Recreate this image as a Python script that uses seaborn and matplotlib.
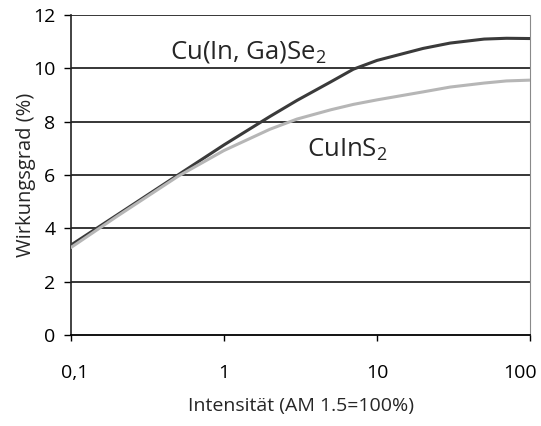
import numpy as np
import pandas as pd
import matplotlib
matplotlib.use("Agg")
import matplotlib.pyplot as plt
import matplotlib.transforms as mtransforms
import seaborn as sns

# data
intensity = [0.1, 0.2, 0.5, 1, 2, 3, 5, 7, 10, 20, 30, 50, 70, 100]
cigs = [3.37, 4.50, 6.00, 7.13, 8.20, 8.80, 9.50, 9.97, 10.30, 10.75, 10.95, 11.10, 11.13, 11.12]
cis = [3.28, 4.45, 5.95, 6.92, 7.72, 8.10, 8.45, 8.65, 8.82, 9.12, 9.30, 9.45, 9.53, 9.56]
series_names = ["Cu(In, Ga)Se$_2$", "CuInS$_2$"]
x_ticks = [0.1, 1, 10, 100]
x_ticklabels = ["0,1", "1", "10", "100"]
y_ticks = [0, 2, 4, 6, 8, 10, 12]

df = pd.DataFrame({
    "Intensität": intensity * 2,
    "Wirkungsgrad": cigs + cis,
    "Material": [series_names[0]] * len(intensity) + [series_names[1]] * len(intensity),
})

sns.set_style("white")
plt.rcParams["font.family"] = ["Open Sans", "DejaVu Sans"]
plt.rcParams["mathtext.fontset"] = "custom"
plt.rcParams["mathtext.rm"] = "Open Sans"
plt.rcParams["mathtext.it"] = "Open Sans:italic"

fig = plt.figure(figsize=(5.41, 4.26), dpi=100)
ax = fig.add_axes([0.131, 0.2136, 0.849, 0.751])

# horizontal grid lines
for y in y_ticks[1:]:
    ax.axhline(y, color="black", lw=1.1, zorder=1)

sns.lineplot(data=df, x="Intensität", y="Wirkungsgrad", hue="Material",
             palette=["#3a3a3a", "#b6b6b6"], linewidth=2.2, legend=False, ax=ax, zorder=3)

ax.set_xscale("log")
ax.set_xlim(0.1, 100)
ax.set_ylim(0, 12)
ax.set_xticks(x_ticks)
ax.set_xticklabels(x_ticklabels)
ax.xaxis.set_minor_locator(matplotlib.ticker.NullLocator())
ax.set_yticks(y_ticks)

ax.tick_params(axis="x", direction="out", length=4, width=1, pad=17, labelsize=14, colors="black")
ax.tick_params(axis="y", direction="out", length=5, width=1, pad=6, labelsize=14, colors="black")
ax.tick_params(left=True, bottom=True)

# nudge the outer x labels, as in the original
lbls = ax.get_xticklabels()
lbls[-1].set_transform(lbls[-1].get_transform() +
                       mtransforms.ScaledTranslation(-10 / 100, 0, fig.dpi_scale_trans))
lbls[0].set_transform(lbls[0].get_transform() +
                      mtransforms.ScaledTranslation(4 / 100, 0, fig.dpi_scale_trans))

ax.spines["top"].set_visible(False)
ax.spines["right"].set_color("#8a8a8a")
ax.spines["right"].set_linewidth(0.8)
ax.spines["left"].set_color("#222222")
ax.spines["left"].set_linewidth(1.2)
ax.spines["bottom"].set_color("black")
ax.spines["bottom"].set_linewidth(1.3)

ax.set_xlabel("Intensität (AM 1.5=100%)", fontsize=14, labelpad=11)
ax.set_ylabel("Wirkungsgrad (%)", fontsize=14.5, labelpad=-2)

ax.text(0.444, 10.37, series_names[0], fontsize=18.5, va="baseline", ha="left", zorder=4)
ax.text(3.47, 6.69, series_names[1], fontsize=18.5, va="baseline", ha="left", zorder=4)

fig.savefig("out.png", dpi=100)
